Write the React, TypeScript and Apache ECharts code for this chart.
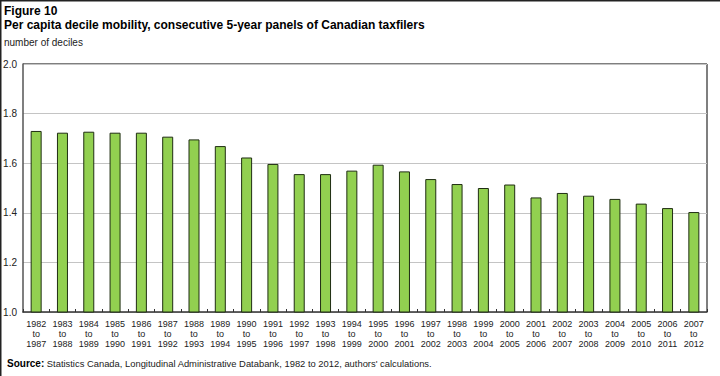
import React, { useEffect, useRef } from "react";
import * as echarts from "echarts";

const startYears = ["1982","1983","1984","1985","1986","1987","1988","1989","1990","1991","1992","1993","1994","1995","1996","1997","1998","1999","2000","2001","2002","2003","2004","2005","2006","2007"];
const endYears = ["1987","1988","1989","1990","1991","1992","1993","1994","1995","1996","1997","1998","1999","2000","2001","2002","2003","2004","2005","2006","2007","2008","2009","2010","2011","2012"];
const mobility = [1.730,1.723,1.727,1.723,1.723,1.707,1.696,1.669,1.623,1.597,1.556,1.556,1.570,1.594,1.567,1.536,1.516,1.500,1.514,1.462,1.480,1.469,1.456,1.437,1.419,1.403];
const yTicks = { min: 1.0, max: 2.0, interval: 0.2 };

const categories = startYears.map((s, i) => `${s}\nto\n${endYears[i]}`);

export default function App() {
  const ref = useRef<HTMLDivElement>(null);
  useEffect(() => {
    if (!ref.current) return;
    const chart = echarts.init(ref.current, null, { renderer: "svg" });
    const font = "Arial, 'Liberation Sans', sans-serif";
    chart.setOption({
      animation: false,
      backgroundColor: "#ffffff",
      textStyle: { fontFamily: font },
      grid: { left: 23, right: 13, top: 64, bottom: 64, containLabel: false },
      graphic: [
        { type: "line", shape: { x1: 0, y1: 0.5, x2: 720, y2: 0.5 }, style: { stroke: "#222", lineWidth: 2 } },
        { type: "line", shape: { x1: 0.5, y1: 0, x2: 0.5, y2: 376 }, style: { stroke: "#222", lineWidth: 2 } },
        { type: "text", left: 4, top: 5, style: { text: "Figure 10", font: `bold 12px ${font}`, fill: "#000" } },
        { type: "text", left: 4, top: 19, style: { text: "Per capita decile mobility, consecutive 5-year panels of Canadian taxfilers", font: `bold 12px ${font}`, fill: "#000" } },
        { type: "text", left: 4, top: 37, style: { text: "number of deciles", font: `10px ${font}`, fill: "#222" } },
        {
          type: "text", left: 7, top: 358,
          style: {
            text: "{b|Source:} Statistics Canada, Longitudinal Administrative Databank, 1982 to 2012, authors' calculations.",
            font: `9.4px ${font}`, fill: "#222",
            rich: { b: { fontWeight: "bold", fontSize: 10, fontFamily: font, fill: "#000" } },
          },
        },
        { type: "line", shape: { x1: 23, y1: 64, x2: 707, y2: 64 }, style: { stroke: "#555", lineWidth: 1.5 } },
        { type: "line", shape: { x1: 707, y1: 64, x2: 707, y2: 312 }, style: { stroke: "#555", lineWidth: 1.5 } },
      ],
      xAxis: {
        type: "category",
        data: categories,
        axisLine: { show: true, lineStyle: { color: "#333", width: 1.5 } },
        axisTick: { show: true, inside: true, length: 3, alignWithLabel: false, lineStyle: { color: "#333" } },
        axisLabel: { interval: 0, fontSize: 9, lineHeight: 10, color: "#222", margin: 7, fontFamily: font },
      },
      yAxis: {
        type: "value",
        min: yTicks.min,
        max: yTicks.max,
        interval: yTicks.interval,
        axisLine: { show: true, lineStyle: { color: "#555", width: 1.5 } },
        axisTick: { show: false },
        axisLabel: { fontSize: 10, color: "#222", margin: 6, formatter: (v: number) => v.toFixed(1), fontFamily: font },
        splitLine: { show: true, lineStyle: { color: "#c4c4c4", width: 1 } },
      },
      series: [
        {
          type: "bar",
          data: mobility,
          barWidth: 11,
          itemStyle: { color: "#92d050", borderColor: "#1f2d12", borderWidth: 1 },
        },
      ],
    });
    return () => chart.dispose();
  }, []);
  return <div ref={ref} style={{ position: "fixed", left: 0, top: 0, width: 720, height: 376 }} />;
}
